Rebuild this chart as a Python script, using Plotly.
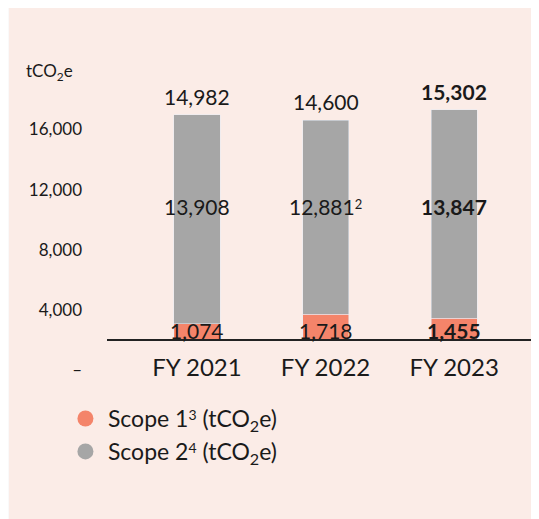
import plotly.graph_objects as go

years = ["FY 2021", "FY 2022", "FY 2023"]
scope1 = [1074, 1718, 1455]
scope2 = [13908, 12881, 13847]
totals = [14982, 14600, 15302]
scope1_text = ["1,074", "1,718", "<b>1,455</b>"]
scope2_text = ["13,908", "12,881<span style='font-size:13px;baseline-shift:6px'>2</span>", "<b>13,847</b>"]
total_text = ["14,982", "14,600", "<b>15,302</b>"]
ytick_labels = ["–", "4,000", "8,000", "12,000", "16,000"]
ytick_values = [0, 4000, 8000, 12000, 16000]
legend_names = [
    "Scope 1<span style='font-size:14px;baseline-shift:7px'>3</span> (tCO<sub>2</sub>e)",
    "Scope 2<span style='font-size:14px;baseline-shift:7px'>4</span> (tCO<sub>2</sub>e)",
]

FONT = "Lato"
INK = "#1a1a1a"
SALMON = "#f4846a"
GREY = "#a6a6a6"

# the printed axis labels sit ~2,000 below the bars' own scale
TICK_SHIFT = 2000
MID_LABEL_Y = 8850
LOW_LABEL_Y = 600

fig = go.Figure()
fig.add_bar(x=years, y=scope1, marker_color=SALMON, width=0.358, showlegend=False)
fig.add_bar(x=years, y=scope2, marker_color=GREY, width=0.358, showlegend=False)

# circle markers for the legend
fig.add_scatter(x=[None], y=[None], mode="markers", name=legend_names[0],
                marker=dict(color=SALMON, size=17), legendgroup="s1")
fig.add_scatter(x=[None], y=[None], mode="markers", name=legend_names[1],
                marker=dict(color=GREY, size=17), legendgroup="s2")

label_font = dict(size=21, color=INK, family=FONT)
annotations = []
for i, yr in enumerate(years):
    annotations.append(dict(x=yr, y=totals[i], text=total_text[i], showarrow=False,
                            yanchor="bottom", yshift=4, font=label_font))
    annotations.append(dict(x=yr, y=MID_LABEL_Y, text=scope2_text[i], showarrow=False, font=label_font))
    annotations.append(dict(x=yr, y=LOW_LABEL_Y, text=scope1_text[i], showarrow=False, font=label_font))
annotations.append(dict(xref="paper", yref="paper", x=-0.192, y=1.006, xanchor="left",
                        text="tCO<sub>2</sub>e", showarrow=False,
                        font=dict(size=17, color=INK, family=FONT)))

fig.update_layout(
    width=531, height=511,
    margin=dict(l=99, r=0, t=52, b=134),
    barmode="stack",
    paper_bgcolor="#fafafa",
    plot_bgcolor="rgba(0,0,0,0)",
    font=dict(family=FONT, color=INK),
    annotations=annotations,
    shapes=[dict(type="rect", xref="paper", yref="paper", x0=-0.227, x1=1.05, y0=-0.45, y1=1.2,
                 fillcolor="#fbece7", line_width=0, layer="below")],
    legend=dict(x=-0.102, y=-0.037, xanchor="left", yanchor="top", tracegroupgap=0,
                itemwidth=35, font=dict(size=23, color=INK, family=FONT), bgcolor="rgba(0,0,0,0)"),
    xaxis=dict(range=[-0.70, 2.66], anchor="free", position=0.1385, showline=True,
               linecolor="#222222", linewidth=1.5, showgrid=False, ticks="",
               tickfont=dict(size=24, color=INK, family=FONT), ticklabelstandoff=6),
    yaxis=dict(range=[-2992, 18617], showgrid=False, zeroline=False, showline=False,
               tickvals=[v - TICK_SHIFT for v in ytick_values], ticktext=ytick_labels,
               tickfont=dict(size=17, color=INK, family=FONT), ticklabelstandoff=24),
)

fig.write_html("out.html")
